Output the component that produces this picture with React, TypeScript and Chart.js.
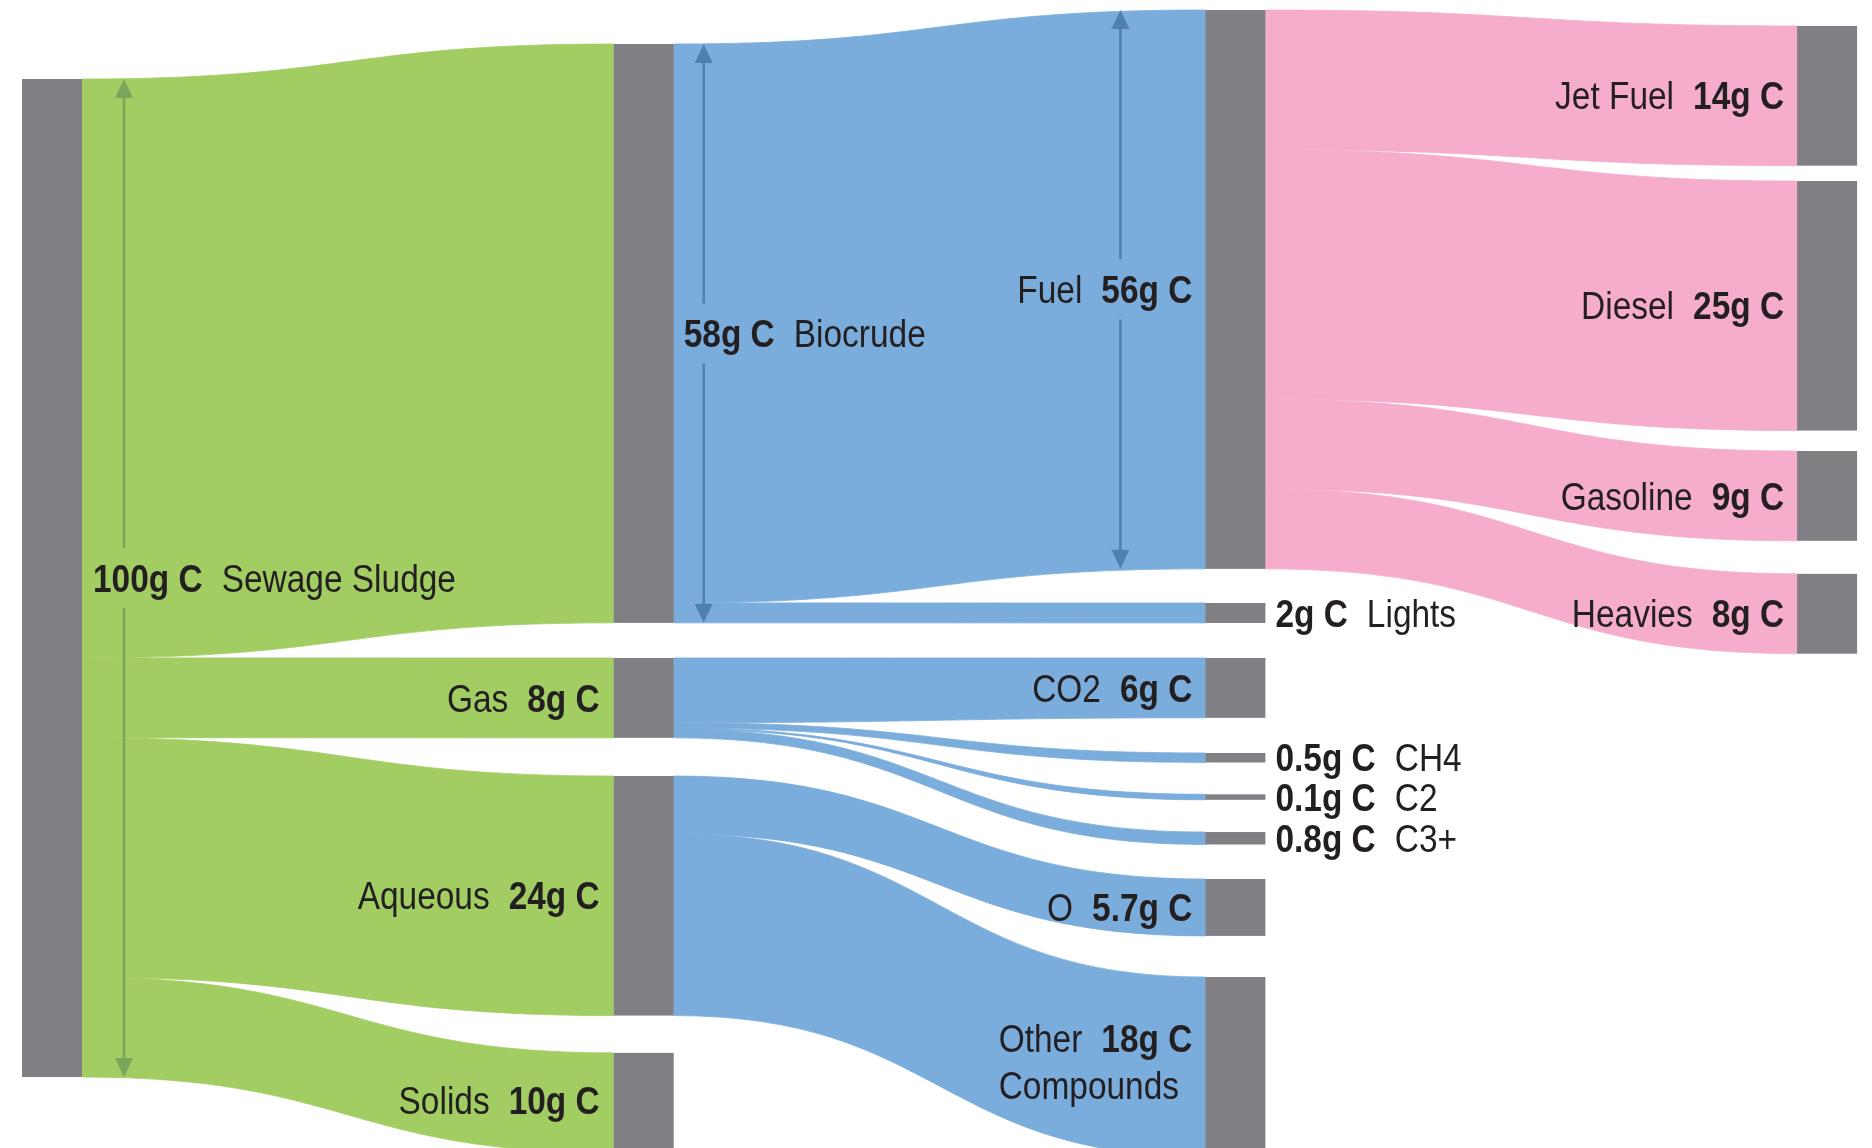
import React, { useEffect, useRef } from "react";
import { Chart, registerables } from "chart.js";

Chart.register(...registerables);

// ---------- DATA ----------
const nodeNames = [
  "Sewage Sludge", "Biocrude", "Gas", "Aqueous", "Solids",
  "Fuel", "Lights", "CO2", "CH4", "C2", "C3+", "O", "Other Compounds",
  "Jet Fuel", "Diesel", "Gasoline", "Heavies",
];
const nodeValues = [100, 58, 8, 24, 10, 56, 2, 6, 0.5, 0.1, 0.8, 5.7, 18, 14, 25, 9, 8];
const nodeColumns = [0, 1, 1, 1, 1, 2, 2, 2, 2, 2, 2, 2, 2, 3, 3, 3, 3];

const linkSources = [0, 0, 0, 0, 1, 1, 2, 2, 2, 2, 3, 3, 5, 5, 5, 5];
const linkTargets = [1, 2, 3, 4, 5, 6, 7, 8, 9, 10, 11, 12, 13, 14, 15, 16];
const linkValues = [58, 8, 24, 10, 56, 2, 6, 0.5, 0.1, 0.8, 5.7, 18, 14, 25, 9, 8];

const unitLabel = "g C";

// ---------- LAYOUT / STYLE ----------
const W = 1872;
const H = 1148;
const X_MIN = -0.0372;
const X_MAX = 3.1266;
const Y_MAX = 115.03; // grams spanned by canvas height
const NODE_W = 0.1014; // in column units
const SMALL_BOOST = 0.45; // extra visible thickness for tiny flows (g)
// node tops in grams along the vertical scale
const NODE_TOP = [7.92, 4.41, 65.93, 77.76, 105.5, 1.0, 60.42, 65.93, 75.45, 79.59, 83.37, 88.08, 97.9, 2.6, 18.14, 45.19, 57.5];
// label side: "R" = right of node (value first), "L" = left of node (name first)
const LABEL_SIDE = ["R", "R", "L", "L", "L", "L", "R", "L", "R", "R", "R", "L", "L", "L", "L", "L", "L"];
const LABEL_PAD = [11, 10, 14, 14, 14, 13, 10, 13, 10, 10, 10, 13, 13, 13, 13, 13, 13];
const WRAP_NODES = [12];

const COL_FLOW = ["#a2cd62", "#7aacdc", "#f5adcb"];
const NODE_COLOR = "#808084";
const TEXT_COLOR = "#231f20";
const FONT_SIZE = 38;
const FONT_SX = 0.88;
const FONT_FAMILY = '"Liberation Sans", Arial, sans-serif';
const PART_GAP = 19;

const ARROWS = [
  { node: 0, side: "R", dx: 42, color: "#78a65a" },
  { node: 1, side: "R", dx: 30, color: "#4f80b0" },
  { node: 5, side: "L", dx: 85, color: "#4f80b0" },
];

function dispVal(v: number) {
  return v < 1 ? v + SMALL_BOOST : v;
}

function fmt(v: number) {
  return `${v}${unitLabel}`;
}

const sankeyPlugin = {
  id: "sankeyDraw",
  afterDatasetsDraw(chart: any) {
    const ctx: CanvasRenderingContext2D = chart.ctx;
    const xs = chart.scales.x;
    const ys = chart.scales.y;
    const px = (v: number) => xs.getPixelForValue(v);
    const py = (v: number) => ys.getPixelForValue(v);
    const bottomLimit = chart.chartArea.bottom;

    const nodes = nodeValues.map((v, i) => {
      const top = NODE_TOP[i];
      return {
        x0: px(nodeColumns[i]),
        x1: px(nodeColumns[i] + NODE_W),
        y0: py(top),
        y1: py(top + dispVal(v)),
      };
    });

    // outflow sums
    const outSum = nodeValues.map(() => 0);
    linkValues.forEach((v, k) => (outSum[linkSources[k]] += v));
    const cursor = NODE_TOP.slice();

    ctx.save();
    // links
    linkValues.forEach((v, k) => {
      const s = linkSources[k];
      const t = linkTargets[k];
      const sc = nodeValues[s] / outSum[s];
      const g0 = cursor[s];
      const g1 = g0 + v * sc;
      cursor[s] = g1;
      const sy0 = py(g0);
      const sy1 = py(g1);
      const ty0 = nodes[t].y0;
      const ty1 = nodes[t].y1;
      const x0 = nodes[s].x1;
      const x1 = nodes[t].x0;
      const xm = (x0 + x1) / 2;
      const color = COL_FLOW[nodeColumns[s]];
      ctx.beginPath();
      ctx.moveTo(x0, sy0);
      ctx.bezierCurveTo(xm, sy0, xm, ty0, x1, ty0);
      ctx.lineTo(x1, ty1);
      ctx.bezierCurveTo(xm, ty1, xm, sy1, x0, sy1);
      ctx.closePath();
      ctx.fillStyle = color;
      ctx.fill();
      ctx.strokeStyle = color;
      ctx.lineWidth = 0.8;
      ctx.stroke();
    });

    // nodes
    ctx.fillStyle = NODE_COLOR;
    nodes.forEach((n) => {
      ctx.fillRect(n.x0, n.y0, n.x1 - n.x0, Math.max(n.y1 - n.y0, 3));
    });

    const labelCenter = (i: number) => {
      const n = nodes[i];
      return (n.y0 + Math.min(n.y1, bottomLimit)) / 2;
    };

    // arrows
    ARROWS.forEach((a) => {
      const n = nodes[a.node];
      const x = a.side === "R" ? n.x1 + a.dx : n.x0 - a.dx;
      const yTop = n.y0;
      const yBot = n.y1;
      const cy = labelCenter(a.node);
      const gap = 30;
      const headL = 19;
      const headW = 9;
      ctx.strokeStyle = a.color;
      ctx.fillStyle = a.color;
      ctx.lineWidth = 2.5;
      ctx.beginPath();
      ctx.moveTo(x, yTop + headL - 2);
      ctx.lineTo(x, cy - gap);
      ctx.moveTo(x, cy + gap);
      ctx.lineTo(x, yBot - headL + 2);
      ctx.stroke();
      ctx.beginPath();
      ctx.moveTo(x, yTop);
      ctx.lineTo(x - headW, yTop + headL);
      ctx.lineTo(x + headW, yTop + headL);
      ctx.closePath();
      ctx.fill();
      ctx.beginPath();
      ctx.moveTo(x, yBot);
      ctx.lineTo(x - headW, yBot - headL);
      ctx.lineTo(x + headW, yBot - headL);
      ctx.closePath();
      ctx.fill();
    });

    // labels
    const fontReg = `${FONT_SIZE}px ${FONT_FAMILY}`;
    const fontBold = `bold ${FONT_SIZE}px ${FONT_FAMILY}`;
    const measure = (text: string, bold: boolean) => {
      ctx.font = bold ? fontBold : fontReg;
      return ctx.measureText(text).width * FONT_SX;
    };
    const drawText = (text: string, x: number, y: number, bold: boolean) => {
      ctx.save();
      ctx.font = bold ? fontBold : fontReg;
      ctx.translate(x, y);
      ctx.scale(FONT_SX, 1);
      ctx.textAlign = "left";
      ctx.textBaseline = "alphabetic";
      ctx.fillStyle = TEXT_COLOR;
      ctx.fillText(text, 0, 0);
      ctx.restore();
    };
    const capHalf = (FONT_SIZE * 0.716) / 2;

    nodeNames.forEach((name, i) => {
      const n = nodes[i];
      const side = LABEL_SIDE[i];
      const pad = LABEL_PAD[i];
      const val = fmt(nodeValues[i]);
      const wrap = WRAP_NODES.includes(i);
      const words = name.split(" ");
      const first = wrap ? words[0] : name;
      const second = wrap ? words.slice(1).join(" ") : "";
      const cy = labelCenter(i);
      const lineY = wrap ? cy - 24 : cy;
      const base = lineY + capHalf;
      if (side === "R") {
        const x0 = n.x1 + pad;
        drawText(val, x0, base, true);
        drawText(first, x0 + measure(val, true) + PART_GAP, base, false);
      } else {
        const xr = n.x0 - pad;
        const wv = measure(val, true);
        const wn = measure(first, false);
        const xn = xr - wv - PART_GAP - wn;
        drawText(val, xr - wv, base, true);
        drawText(first, xn, base, false);
        if (wrap) {
          drawText(second, xn, cy + 23 + capHalf, false);
        }
      }
    });
    ctx.restore();
  },
};

export default function App() {
  const canvasRef = useRef<HTMLCanvasElement | null>(null);

  useEffect(() => {
    if (!canvasRef.current) return;
    const chart = new Chart(canvasRef.current, {
      type: "scatter",
      data: { datasets: [{ data: [], pointRadius: 0 }] },
      options: {
        animation: false,
        responsive: false,
        events: [],
        layout: { padding: 0 },
        plugins: {
          legend: { display: false },
          tooltip: { enabled: false },
        },
        scales: {
          x: { type: "linear", display: false, min: X_MIN, max: X_MAX },
          y: { type: "linear", display: false, reverse: true, min: 0, max: Y_MAX },
        },
      },
      plugins: [sankeyPlugin],
    } as any);
    return () => chart.destroy();
  }, []);

  return (
    <div style={{ position: "absolute", left: 0, top: 0, width: W, height: H, background: "#ffffff" }}>
      <canvas ref={canvasRef} width={W} height={H} style={{ display: "block" }} />
    </div>
  );
}
